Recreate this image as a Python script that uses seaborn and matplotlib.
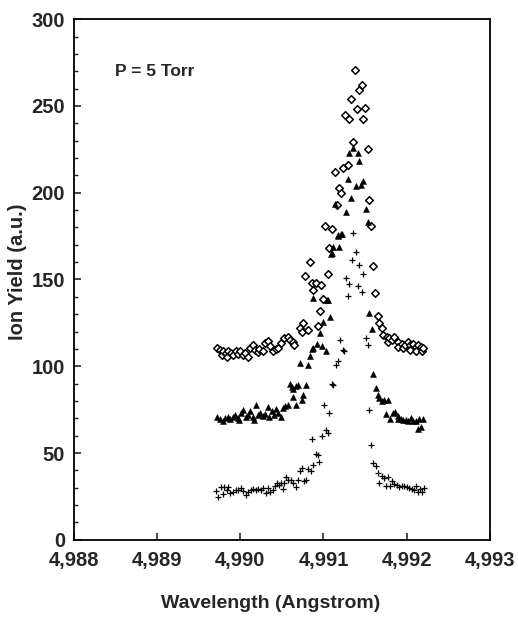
import numpy as np
import pandas as pd
import seaborn as sns
import matplotlib.pyplot as plt
from matplotlib.ticker import MultipleLocator, FuncFormatter

# open diamonds (upper series)
dia_x = [4989.72, 4989.76, 4989.78, 4989.80, 4989.83, 4989.84, 4989.86, 4989.89, 4989.92, 4989.95,
         4989.97, 4990.00, 4990.03, 4990.06, 4990.09, 4990.12, 4990.15, 4990.18, 4990.21, 4990.23,
         4990.27, 4990.30, 4990.33, 4990.36, 4990.40, 4990.43, 4990.46, 4990.49, 4990.53, 4990.57,
         4990.60, 4990.63, 4990.65, 4990.72, 4990.74, 4990.76, 4990.78, 4990.81, 4990.84, 4990.86,
         4990.88, 4990.91, 4990.93, 4990.96, 4990.97, 4991.00, 4991.02, 4991.05, 4991.07, 4991.10,
         4991.14, 4991.16, 4991.19, 4991.21, 4991.24, 4991.26, 4991.29, 4991.31, 4991.33, 4991.36,
         4991.38, 4991.40, 4991.43, 4991.46, 4991.48, 4991.50, 4991.53, 4991.55, 4991.57, 4991.60,
         4991.62, 4991.65, 4991.67, 4991.70, 4991.72, 4991.76, 4991.78, 4991.79, 4991.82, 4991.85,
         4991.89, 4991.90, 4991.94, 4991.96, 4991.98, 4992.01, 4992.04, 4992.04, 4992.08, 4992.11,
         4992.11, 4992.14, 4992.17, 4992.18, 4992.20]
dia_y = [110.5, 109.5, 106.6, 109.0, 107.6, 105.6, 108.5, 107.6, 106.2, 109.0,
         107.0, 108.5, 106.2, 107.6, 105.6, 110.5, 112.0, 109.5, 108.0, 110.0,
         109.0, 113.4, 114.3, 111.4, 108.5, 110.0, 110.8, 113.4, 116.2, 116.6,
         115.3, 114.0, 112.4, 122.0, 120.0, 125.0, 152.0, 121.0, 160.0, 148.0,
         144.0, 148.0, 123.0, 132.0, 147.0, 139.0, 181.0, 153.0, 168.0, 179.0,
         212.0, 193.0, 203.0, 200.0, 214.0, 245.0, 216.0, 242.5, 254.0, 229.0,
         271.0, 248.0, 259.0, 262.0, 242.6, 249.0, 225.0, 196.0, 181.0, 158.0,
         142.0, 129.0, 125.0, 122.0, 118.0, 117.0, 114.0, 116.0, 115.0, 117.0,
         114.0, 111.0, 113.0, 110.5, 112.0, 114.0, 112.0, 109.5, 113.0, 111.0,
         109.0, 112.0, 111.0, 109.0, 110.7]

# filled triangles (middle series)
tri_x = [4989.72, 4989.76, 4989.79, 4989.82, 4989.85, 4989.88, 4989.91, 4989.94, 4989.97, 4989.99,
         4990.01, 4990.04, 4990.07, 4990.09, 4990.12, 4990.15, 4990.17, 4990.19, 4990.21, 4990.24,
         4990.27, 4990.30, 4990.33, 4990.35, 4990.38, 4990.41, 4990.43, 4990.46, 4990.49, 4990.51,
         4990.54, 4990.57, 4990.60, 4990.62, 4990.63, 4990.64, 4990.67, 4990.67, 4990.69, 4990.72,
         4990.74, 4990.76, 4990.79, 4990.81, 4990.84, 4990.86, 4990.87, 4990.88, 4990.92, 4990.96,
         4990.98, 4991.00, 4991.03, 4991.04, 4991.05, 4991.08, 4991.09, 4991.10, 4991.12, 4991.14,
         4991.17, 4991.18, 4991.19, 4991.21, 4991.22, 4991.27, 4991.29, 4991.31, 4991.33, 4991.36,
         4991.39, 4991.41, 4991.43, 4991.45, 4991.48, 4991.51, 4991.53, 4991.55, 4991.58, 4991.60,
         4991.63, 4991.65, 4991.67, 4991.70, 4991.73, 4991.75, 4991.77, 4991.80, 4991.83, 4991.86,
         4991.89, 4991.89, 4991.93, 4991.96, 4991.99, 4992.02, 4992.05, 4992.08, 4992.11, 4992.13,
         4992.15, 4992.17, 4992.20]
tri_y = [70.5, 69.7, 68.6, 70.1, 70.5, 69.7, 71.0, 72.0, 70.1, 69.2,
         73.0, 75.0, 70.5, 72.0, 74.0, 71.0, 69.2, 77.8, 72.0, 73.0,
         71.6, 72.4, 76.3, 70.5, 74.4, 72.0, 75.5, 73.0, 71.0, 75.9,
         76.8, 77.8, 89.7, 87.8, 86.9, 82.0, 88.4, 77.4, 89.0, 101.8,
         80.7, 83.6, 89.0, 100.9, 105.7, 110.0, 110.5, 139.3, 113.0, 119.0,
         111.4, 125.5, 108.5, 138.3, 138.0, 128.4, 164.8, 165.0, 168.7, 193.7,
         175.4, 175.0, 168.7, 176.4, 176.4, 188.6, 208.0, 223.0, 197.0, 226.0,
         204.0, 223.0, 218.0, 204.6, 207.0, 190.6, 183.0, 130.7, 121.4, 95.5,
         87.4, 83.4, 81.7, 79.7, 80.7, 72.6, 80.3, 69.7, 73.0, 73.4,
         71.5, 69.6, 69.6, 69.2, 68.8, 68.2, 70.1, 68.2, 68.2, 63.8,
         69.6, 65.0, 69.6]

# crosses (lower series)
crs_x = [4989.71, 4989.74, 4989.77, 4989.79, 4989.81, 4989.84, 4989.85, 4989.88, 4989.92, 4989.95,
         4989.98, 4990.01, 4990.04, 4990.07, 4990.10, 4990.13, 4990.16, 4990.19, 4990.22, 4990.25,
         4990.28, 4990.31, 4990.33, 4990.36, 4990.39, 4990.42, 4990.44, 4990.47, 4990.49, 4990.51,
         4990.53, 4990.55, 4990.58, 4990.61, 4990.64, 4990.67, 4990.69, 4990.72, 4990.74, 4990.77,
         4990.79, 4990.82, 4990.85, 4990.86, 4990.88, 4990.91, 4990.93, 4990.95, 4990.98, 4991.01,
         4991.03, 4991.05, 4991.07, 4991.10, 4991.12, 4991.15, 4991.17, 4991.20, 4991.23, 4991.25,
         4991.27, 4991.29, 4991.31, 4991.34, 4991.36, 4991.39, 4991.41, 4991.43, 4991.46, 4991.48,
         4991.51, 4991.53, 4991.55, 4991.57, 4991.60, 4991.63, 4991.65, 4991.67, 4991.70, 4991.73,
         4991.75, 4991.77, 4991.80, 4991.82, 4991.85, 4991.88, 4991.91, 4991.94, 4991.97, 4992.00,
         4992.03, 4992.06, 4992.09, 4992.11, 4992.14, 4992.16, 4992.18, 4992.21]
crs_y = [28.2, 24.4, 30.4, 26.5, 30.4, 28.8, 30.4, 26.9, 27.3, 28.4,
         28.8, 29.8, 28.2, 25.8, 27.8, 28.8, 29.2, 28.8, 29.2, 28.8,
         29.8, 26.9, 29.8, 27.8, 28.8, 31.1, 32.7, 31.7, 33.0, 29.2,
         33.0, 36.1, 34.2, 34.6, 32.7, 30.4, 34.2, 39.4, 41.3, 33.6,
         34.2, 40.7, 39.8, 58.0, 43.2, 49.6, 49.0, 44.8, 60.0, 77.8,
         63.4, 61.5, 73.0, 89.7, 89.3, 100.5, 103.3, 114.9, 109.5, 108.5,
         150.8, 140.6, 147.6, 161.4, 177.0, 165.6, 146.0, 158.5, 142.5, 153.3,
         116.3, 112.4, 75.0, 54.8, 44.2, 42.3, 38.4, 33.0, 37.0, 35.6,
         30.7, 36.1, 30.7, 33.6, 32.3, 31.7, 30.4, 30.7, 30.7, 30.4,
         29.8, 29.2, 28.8, 30.7, 27.8, 29.2, 27.3, 29.8]

x_ticks = [4988, 4989, 4990, 4991, 4992, 4993]
y_ticks = [0, 50, 100, 150, 200, 250, 300]

sns.set_style("ticks")
plt.rcParams['font.family'] = ['Liberation Sans', 'DejaVu Sans']
plt.rcParams['font.weight'] = 'bold'

fig = plt.figure(figsize=(5.18, 6.19), dpi=100)
ax = fig.add_axes([0.142, 0.128, 0.804, 0.841])

sns.scatterplot(x=dia_x, y=dia_y, marker='D', s=15, facecolor='white',
                edgecolor='black', linewidth=1.1, ax=ax, zorder=3)
sns.scatterplot(x=tri_x, y=tri_y, marker='^', s=18, color='black',
                edgecolor='black', linewidth=0.4, ax=ax, zorder=3)
sns.scatterplot(x=crs_x, y=crs_y, marker='+', s=16, color='black',
                linewidth=0.9, ax=ax, zorder=3)

ax.set_xlim(4988, 4993)
ax.set_ylim(0, 300)
ax.set_xticks(x_ticks)
ax.set_yticks(y_ticks)
ax.yaxis.set_minor_locator(MultipleLocator(10))
ax.xaxis.set_major_formatter(FuncFormatter(lambda v, p: f"{int(v):,}"))

for side in ['top', 'right', 'left', 'bottom']:
    ax.spines[side].set_visible(True)
    ax.spines[side].set_linewidth(1.3)
    ax.spines[side].set_color('black')

ax.tick_params(axis='both', which='major', direction='in', length=5, width=1.2,
               labelsize=14.5)
ax.tick_params(axis='x', which='major', pad=8)
ax.tick_params(axis='y', which='major', pad=6)
ax.tick_params(axis='y', which='minor', direction='in', length=3, width=1.0)
for lab in ax.get_xticklabels() + ax.get_yticklabels():
    lab.set_fontweight('bold')

ax.set_xlabel('Wavelength (Angstrom)', fontsize=14, fontweight='bold')
ax.set_ylabel('Ion Yield (a.u.)', fontsize=14.5, fontweight='bold')
ax.xaxis.set_label_coords(0.472, -0.106)
ax.yaxis.set_label_coords(-0.112, 0.515)

ax.text(4988.5, 270, 'P = 5 Torr', fontsize=12.5, fontweight='bold', va='center', ha='left')

fig.savefig('out.png', dpi=100)
